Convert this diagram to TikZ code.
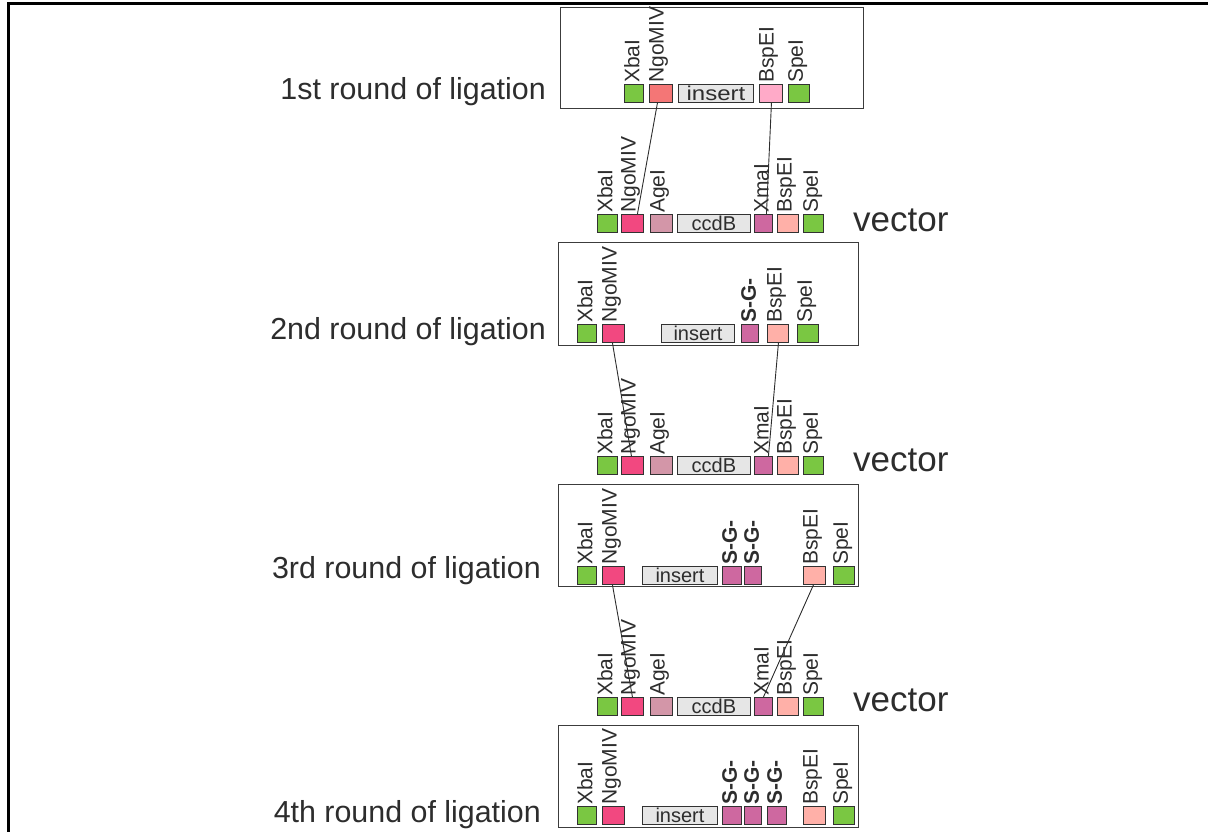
\documentclass[tikz,border=0pt]{standalone}
\usepackage{fontspec}
\setmainfont{Liberation Sans}
\definecolor{grn}{RGB}{122,199,66}
\definecolor{ngoa}{RGB}{244,118,118}
\definecolor{ngo}{RGB}{242,72,128}
\definecolor{bspa}{RGB}{255,170,200}
\definecolor{bsp}{RGB}{255,176,168}
\definecolor{age}{RGB}{211,150,168}
\definecolor{xma}{RGB}{206,104,160}
\definecolor{gry}{RGB}{230,230,230}
\definecolor{txt}{RGB}{45,45,45}
\definecolor{sqline}{RGB}{50,50,50}
\definecolor{boxline}{RGB}{60,60,60}
\begin{document}
\begin{tikzpicture}[x=1pt,y=-1pt,
  sq/.style={draw=sqline, line width=0.9pt, inner sep=0pt, minimum height=18pt, anchor=north west},
  gbox/.style={sq, fill=gry, text=txt, font=\fontsize{20}{20}\selectfont},
  lab/.style={rotate=90, inner sep=0pt, anchor=north west, text=txt, font=\fontsize{21}{24}\selectfont},
  sg/.style={lab, font=\fontsize{21}{24}\selectfont\bfseries},
  frame/.style={draw=boxline, line width=1.1pt, inner sep=0pt, anchor=north west},
  big/.style={text=txt, inner sep=0pt, font=\fontsize{30.4}{36}\selectfont, anchor=base east},
  vec/.style={text=txt, inner sep=0pt, font=\fontsize{35}{40}\selectfont, anchor=base west},
  lig/.style={draw=txt, line width=0.9pt}]
\useasboundingbox (0,0) rectangle (1208,832);
\draw[line width=3pt] (1208,3.5) -- (8,3.5) -- (8,832);

% ---------- boxes ----------
\node[frame, minimum width=303pt, minimum height=101pt] (box1) at (560,7) {};
\node[frame, minimum width=300pt, minimum height=103pt] (box2) at (558,242) {};
\node[frame, minimum width=300pt, minimum height=102pt] (box3) at (558,484) {};
\node[frame, minimum width=300pt, minimum height=102pt] (box4) at (558,725) {};

% ---------- round labels ----------
\node[big] (r1) at (546,100) {1st round of ligation};
\node[big] (r2) at (546,339) {2nd round of ligation};
\node[big] (r3) at (541,578) {3rd round of ligation};
\node[big] (r4) at (541,822) {4th round of ligation};

% ---------- box 1 ----------
\node[sq, fill=grn, minimum width=19pt] (ax) at (624,84) {};
\node[lab] (axl) at ([yshift=1pt]ax.north west) {XbaI};
\node[sq, fill=ngoa, minimum width=23pt] (an) at (649,84) {};
\node[lab] (anl) at ([yshift=1pt]an.north west) {NgoMIV};
\node[gbox, minimum width=75pt] (ai) at (678,84) {\scalebox{1.2}[1]{insert}};
\node[sq, fill=bspa, minimum width=23pt] (ab) at (759,84) {};
\node[lab] (abl) at ([yshift=1pt]ab.north west) {BspEI};
\node[sq, fill=grn, minimum width=21pt] (as) at (788,84) {};
\node[lab] (asl) at ([yshift=1pt]as.north west) {SpeI};

% ---------- vector rows ----------
\foreach \r/\y/\vy in {1/214/231, 2/456/471, 3/697/711}{
  \node[sq, fill=grn, minimum width=20pt] (vx\r) at (597,\y) {};
  \node[lab] (vxl\r) at ([yshift=1pt]vx\r.north west) {XbaI};
  \node[sq, fill=ngo, minimum width=22pt] (vn\r) at (621,\y) {};
  \node[lab] (vnl\r) at ([yshift=1pt]vn\r.north west) {NgoMIV};
  \node[sq, fill=age, minimum width=22pt] (va\r) at (650,\y) {};
  \node[lab] (val\r) at ([yshift=1pt]va\r.north west) {AgeI};
  \node[gbox, minimum width=73pt] (vc\r) at (677,\y) {ccdB};
  \node[sq, fill=xma, minimum width=18pt] (vm\r) at (754,\y) {};
  \node[lab] (vml\r) at ([yshift=1pt]vm\r.north west) {XmaI};
  \node[sq, fill=bsp, minimum width=21pt] (vb\r) at (777,\y) {};
  \node[lab] (vbl\r) at ([yshift=1pt]vb\r.north west) {BspEI};
  \node[sq, fill=grn, minimum width=20pt] (vs\r) at (803,\y) {};
  \node[lab] (vsl\r) at ([yshift=1pt]vs\r.north west) {SpeI};
  \node[vec] (vt\r) at (853,\vy) {vector};
}

% ---------- box 2 ----------
\node[sq, fill=grn, minimum width=19pt] (bx) at (577,324) {};
\node[lab] (bxl) at ([yshift=1pt]bx.north west) {XbaI};
\node[sq, fill=ngo, minimum width=22pt] (bn) at (602,324) {};
\node[lab] (bnl) at ([yshift=1pt]bn.north west) {NgoMIV};
\node[gbox, minimum width=73pt] (bi) at (661,324) {insert};
\node[sq, fill=xma, minimum width=17pt] (bg) at (741,324) {};
\node[sg] (bgl) at ([yshift=1pt]bg.north west) {S-G-};
\node[sq, fill=bsp, minimum width=21pt] (bb) at (767,324) {};
\node[lab] (bbl) at ([yshift=1pt]bb.north west) {BspEI};
\node[sq, fill=grn, minimum width=21pt] (bs) at (797,324) {};
\node[lab] (bsl) at ([yshift=1pt]bs.north west) {SpeI};

% ---------- box 3 ----------
\node[sq, fill=grn, minimum width=19pt] (cx) at (577,566) {};
\node[lab] (cxl) at ([yshift=1pt]cx.north west) {XbaI};
\node[sq, fill=ngo, minimum width=22pt] (cn) at (602,566) {};
\node[lab] (cnl) at ([yshift=1pt]cn.north west) {NgoMIV};
\node[gbox, minimum width=75pt] (ci) at (642,566) {insert};
\node[sq, fill=xma, minimum width=19pt] (cg1) at (722,566) {};
\node[sg] (cgl1) at ([yshift=1pt]cg1.north west) {S-G-};
\node[sq, fill=xma, minimum width=17pt] (cg2) at (744,566) {};
\node[sg] (cgl2) at ([yshift=1pt]cg2.north west) {S-G-};
\node[sq, fill=bsp, minimum width=22pt] (cb) at (803,566) {};
\node[lab] (cbl) at ([yshift=1pt]cb.north west) {BspEI};
\node[sq, fill=grn, minimum width=21pt] (cs) at (833,566) {};
\node[lab] (csl) at ([yshift=1pt]cs.north west) {SpeI};

% ---------- box 4 ----------
\node[sq, fill=grn, minimum width=19pt] (dx) at (577,806) {};
\node[lab] (dxl) at ([yshift=1pt]dx.north west) {XbaI};
\node[sq, fill=ngo, minimum width=22pt] (dn) at (602,806) {};
\node[lab] (dnl) at ([yshift=1pt]dn.north west) {NgoMIV};
\node[gbox, minimum width=75pt] (di) at (642,806) {insert};
\node[sq, fill=xma, minimum width=19pt] (dg1) at (722,806) {};
\node[sg] (dgl1) at ([yshift=1pt]dg1.north west) {S-G-};
\node[sq, fill=xma, minimum width=17pt] (dg2) at (744,806) {};
\node[sg] (dgl2) at ([yshift=1pt]dg2.north west) {S-G-};
\node[sq, fill=xma, minimum width=19pt] (dg3) at (767,806) {};
\node[sg] (dgl3) at ([yshift=1pt]dg3.north west) {S-G-};
\node[sq, fill=bsp, minimum width=22pt] (db) at (803,806) {};
\node[lab] (dbl) at ([yshift=1pt]db.north west) {BspEI};
\node[sq, fill=grn, minimum width=21pt] (ds) at (833,806) {};
\node[lab] (dsl) at ([yshift=1pt]ds.north west) {SpeI};

% ---------- ligation lines ----------
\draw[lig] ([xshift=-3.5pt]an.south) -- ([xshift=5pt]vn1.north);
\draw[lig] ([xshift=0.5pt]ab.south) -- ([xshift=3pt]vm1.north);
\draw[lig] ([xshift=-1pt]bn.south) -- ([xshift=-1pt]vn2.north);
\draw[lig] ([xshift=0.5pt]bb.south) -- ([xshift=5pt]vm2.north);
\draw[lig] ([xshift=-1pt]cn.south) -- (vn3.north);
\draw[lig] ([xshift=-1pt]cb.south) -- (vm3.north);
\end{tikzpicture}
\end{document}
